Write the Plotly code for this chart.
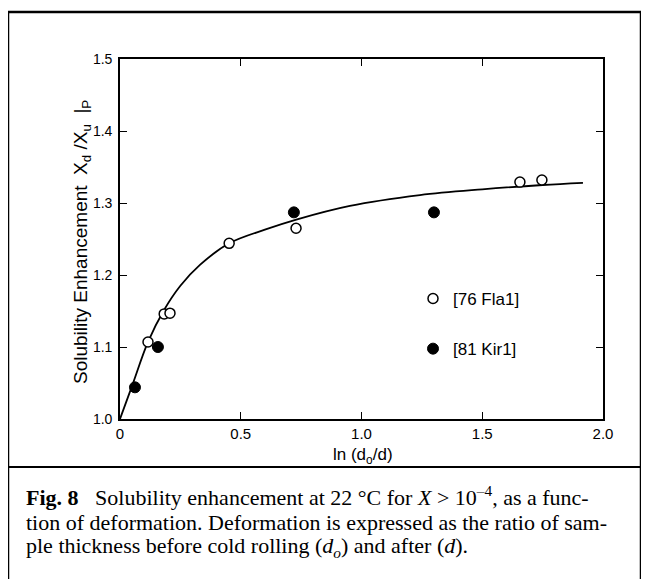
import plotly.graph_objects as go

# ---- data ----
fla_x = [0.116, 0.183, 0.207, 0.452, 0.729, 1.656, 1.747]
fla_y = [1.107, 1.146, 1.147, 1.244, 1.265, 1.329, 1.332]

kir_x = [0.062, 0.157, 0.720, 1.300]
kir_y = [1.044, 1.100, 1.287, 1.287]

curve_x = [0.0, 0.05, 0.116, 0.18, 0.25, 0.331, 0.452, 0.60, 0.73, 0.952, 1.242, 1.50, 1.75, 1.917]
curve_y = [1.0, 1.046, 1.107, 1.150, 1.185, 1.214, 1.244, 1.263, 1.277, 1.296, 1.311, 1.319, 1.325, 1.328]

x_ticks = [0, 0.5, 1.0, 1.5, 2.0]
x_ticktext = ["0", "0.5", "1.0", "1.5", "2.0"]
y_ticks = [1.0, 1.1, 1.2, 1.3, 1.4, 1.5]
y_ticktext = ["1.0", "1.1", "1.2", "1.3", "1.4", "1.5"]

# page offset of 8px (html body margin) compensated
OFF = 8
W, H = 649 - OFF, 579 - OFF
L, R, T, B = 120, 603, 59, 419  # plot area in page pixels

def px(x):
    return (x - L) / (R - L)

def py(y):
    return (B - y) / (B - T)

fig = go.Figure()
fig.add_trace(go.Scatter(x=curve_x, y=curve_y, mode="lines",
                         line=dict(color="black", width=1.8, shape="spline", smoothing=1.0),
                         showlegend=False, hoverinfo="skip"))
fig.add_trace(go.Scatter(x=fla_x, y=fla_y, mode="markers", name="[76 Fla1]",
                         legendgroup="a",
                         marker=dict(symbol="circle", size=10, color="white",
                                     line=dict(color="black", width=1.5))))
fig.add_trace(go.Scatter(x=kir_x, y=kir_y, mode="markers", name="[81 Kir1]",
                         legendgroup="b",
                         marker=dict(symbol="circle", size=11, color="black",
                                     line=dict(color="black", width=1))))

SANS = "Liberation Sans, Arial, sans-serif"
axis_common = dict(showgrid=False, zeroline=False, showline=True, linecolor="black",
                   linewidth=1.6, mirror="ticks", ticks="inside", ticklen=7,
                   tickwidth=1.4, tickcolor="black")

fig.update_xaxes(range=[0, 2.0], tickvals=x_ticks, ticktext=x_ticktext,
                 tickfont=dict(family=SANS, size=15, color="black"), **axis_common)
fig.update_yaxes(range=[1.0, 1.5], tickvals=y_ticks, ticktext=y_ticktext, ticklabelstandoff=3,
                 tickfont=dict(family=SANS, size=14, color="black"), **axis_common)

shapes = [
    dict(type="rect", xref="paper", yref="paper",
         x0=px(8), x1=px(641), y0=py(600), y1=py(12),
         line=dict(color="black", width=2.5), layer="below"),
    dict(type="line", xref="paper", yref="paper",
         x0=px(8), x1=px(641), y0=py(467), y1=py(467),
         line=dict(color="black", width=2)),
]

annotations = [
    dict(text="Solubility Enhancement  X<sub>d</sub> /X<sub>u</sub>  |<sub>P</sub>",
         xref="paper", yref="paper", x=px(82), y=py(242), textangle=-90,
         showarrow=False, xanchor="center", yanchor="middle",
         font=dict(family=SANS, size=19, color="black")),
    dict(text="ln (d<sub>o</sub>/d)",
         xref="paper", yref="paper", x=px(363), y=py(456),
         showarrow=False, xanchor="center", yanchor="middle",
         font=dict(family=SANS, size=17, color="black")),
]

caption_lines = [
    "<b>Fig. 8</b>   Solubility enhancement at 22 °C for <i>X</i> > 10<sup>–4</sup>, as a func-",
    "tion of deformation. Deformation is expressed as the ratio of sam-",
    "ple thickness before cold rolling (<i>d<sub>o</sub></i>) and after (<i>d</i>).",
]
caption_y = [496, 522, 547]
for line, yy in zip(caption_lines, caption_y):
    annotations.append(dict(text=line, xref="paper", yref="paper", x=px(24), y=py(yy),
                            showarrow=False, xanchor="left", yanchor="middle",
                            font=dict(family="Liberation Serif, Times New Roman, serif",
                                      size=22, color="black")))

fig.update_layout(
    width=W, height=H,
    margin=dict(l=L - OFF, r=W - (R - OFF), t=T - OFF, b=H - (B - OFF)),
    paper_bgcolor="white", plot_bgcolor="white",
    showlegend=True,
    legend=dict(x=px(413), y=py(281), xanchor="left", yanchor="top",
                bgcolor="rgba(0,0,0,0)", tracegroupgap=25,
                font=dict(family=SANS, size=17, color="black")),
    shapes=shapes, annotations=annotations,
)

fig.write_html("out.html")
